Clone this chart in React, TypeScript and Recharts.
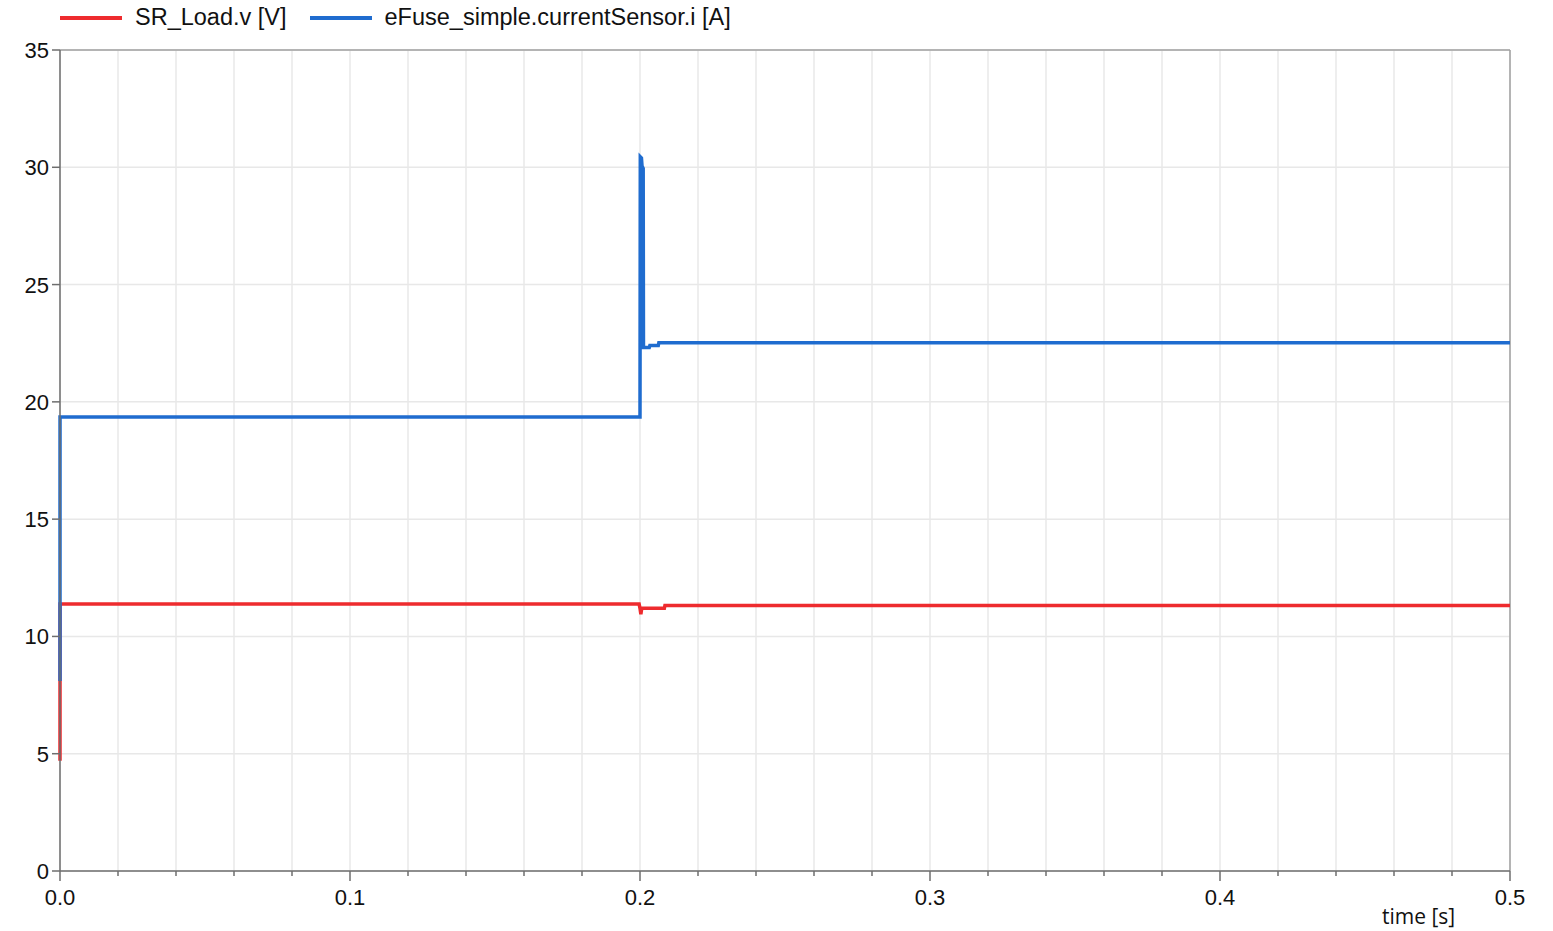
import { CartesianGrid, Line, LineChart, ReferenceLine, XAxis, YAxis } from 'recharts'

const COLORS = {
  voltage: '#ee2b2e',
  current: '#1f6ccf',
  grid: '#e8e8e8',
  axis: '#6e6e6e',
  frame: '#a0a0a0',
  text: '#111',
}

// SR_Load.v [V]
const voltageTime = [0, 0.00001, 0.1997, 0.2, 0.2003, 0.2006, 0.2084, 0.2086, 0.5]
const voltageValue = [4.7, 11.38, 11.38, 11.2, 10.95, 11.2, 11.2, 11.32, 11.32]

// eFuse_simple.currentSensor.i [A]
const currentTime = [0, 0.00001, 0.2, 0.2001, 0.2005, 0.2007, 0.2011, 0.2012, 0.2032, 0.2034, 0.2063, 0.2065, 0.5]
const currentValue = [8.1, 19.35, 19.35, 30.45, 30.4, 30.05, 29.95, 22.32, 22.32, 22.4, 22.4, 22.52, 22.52]

const xTicks = [
  0, 0.02, 0.04, 0.06, 0.08, 0.1, 0.12, 0.14, 0.16, 0.18, 0.2, 0.22, 0.24, 0.26, 0.28, 0.3,
  0.32, 0.34, 0.36, 0.38, 0.4, 0.42, 0.44, 0.46, 0.48, 0.5,
]
const yTicks = [0, 5, 10, 15, 20, 25, 30, 35]

const voltageData = voltageTime.map((t, i) => ({ t, v: voltageValue[i] }))
const currentData = currentTime.map((t, i) => ({ t, v: currentValue[i] }))

const FONT = '"Liberation Sans", Arial, sans-serif'

function XTick(props: any) {
  const { x, y, payload } = props
  const v = payload.value as number
  const major = Math.abs(v * 10 - Math.round(v * 10)) < 1e-9
  return (
    <g>
      <line x1={x} x2={x} y1={y} y2={y + (major ? 10 : 5)} stroke={COLORS.axis} strokeWidth={1.5} />
      {major && (
        <text x={x} y={y + 34} textAnchor="middle" fontSize={22} fontFamily={FONT} fill={COLORS.text}>
          {v.toFixed(1)}
        </text>
      )}
    </g>
  )
}

function YTick(props: any) {
  const { x, y, payload } = props
  return (
    <g>
      <line x1={x - 8} x2={x} y1={y} y2={y} stroke={COLORS.axis} strokeWidth={1.5} />
      <text x={x - 11} y={y + 8} textAnchor="end" fontSize={22} fontFamily={FONT} fill={COLORS.text}>
        {payload.value}
      </text>
    </g>
  )
}

export default function App() {
  return (
    <div style={{ position: 'relative', width: 1553, height: 931, background: '#fff' }}>
      <style>{'body{margin:0}'}</style>
      <div
        style={{
          position: 'absolute',
          top: 4,
          left: 60,
          display: 'flex',
          alignItems: 'center',
          gap: 13,
          fontFamily: FONT,
          fontSize: 23.5,
          color: COLORS.text,
        }}
      >
        <span style={{ width: 62, height: 4, background: COLORS.voltage }} />
        <span>SR_Load.v [V]</span>
        <span style={{ width: 62, height: 4, background: COLORS.current, marginLeft: 10 }} />
        <span>eFuse_simple.currentSensor.i [A]</span>
      </div>
      <LineChart width={1553} height={931} margin={{ top: 50, right: 43, bottom: 0, left: 0 }}>
        <CartesianGrid stroke={COLORS.grid} strokeWidth={1.5} />
        <XAxis
          dataKey="t"
          type="number"
          domain={[0, 0.5]}
          ticks={xTicks}
          height={60}
          tickSize={0}
          tickMargin={0}
          stroke={COLORS.axis}
          strokeWidth={1.5}
          tick={<XTick />}
          allowDuplicatedCategory={false}
        />
        <YAxis
          type="number"
          domain={[0, 35]}
          ticks={yTicks}
          width={60}
          tickSize={0}
          tickMargin={0}
          stroke={COLORS.axis}
          strokeWidth={1.5}
          tick={<YTick />}
        />
        <ReferenceLine y={35} stroke={COLORS.frame} strokeWidth={1.5} />
        <ReferenceLine x={0.5} stroke={COLORS.frame} strokeWidth={1.5} />
        <Line
          data={voltageData}
          dataKey="v"
          type="linear"
          stroke={COLORS.voltage}
          strokeWidth={3.5}
          dot={false}
          isAnimationActive={false}
        />
        <Line
          data={currentData}
          dataKey="v"
          type="linear"
          stroke={COLORS.current}
          strokeWidth={3.5}
          dot={false}
          isAnimationActive={false}
        />
      </LineChart>
      <div
        style={{
          position: 'absolute',
          left: 1382,
          top: 902,
          fontFamily: '"Open Sans", "Noto Sans", sans-serif',
          fontSize: 21,
          color: COLORS.text,
        }}
      >
        time [s]
      </div>
    </div>
  )
}
